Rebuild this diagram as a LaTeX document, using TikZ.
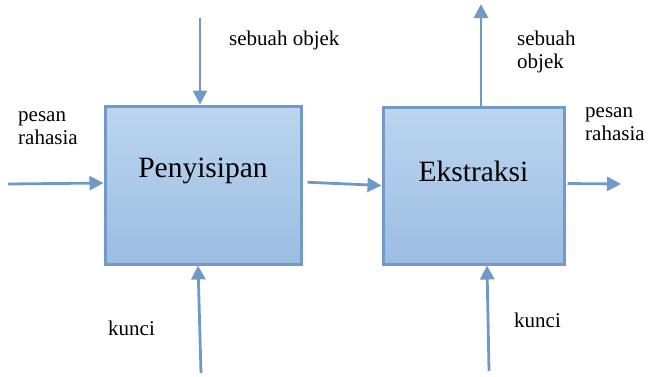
\documentclass[tikz,border=0pt]{standalone}
\usepackage{fontspec}
\setmainfont{Liberation Serif}
\usetikzlibrary{arrows.meta,positioning}
\definecolor{boxtop}{HTML}{BCD5EF}
\definecolor{boxbot}{HTML}{9BBDE2}
\definecolor{boxline}{HTML}{739AC6}
\definecolor{arrowblue}{HTML}{6F9AC8}
\tikzset{
  process/.style={draw=boxline, line width=3pt, top color=boxtop, bottom color=boxbot,
    inner sep=0pt},
  title/.style={font=\fontsize{29.5}{32}\selectfont},
  lbl/.style={anchor=west, align=left, inner sep=0pt, font=\fontsize{21}{22.5}\selectfont},
  flow/.style={draw=arrowblue, line width=2.8pt, -{Triangle[length=14pt,width=14pt]}}
}
\begin{document}
\begin{tikzpicture}[x=1pt,y=-1pt]
    \useasboundingbox (0,0) rectangle (649,376);
    \node[process, minimum width=196pt, minimum height=158pt] (emb) at (203,185) {};
    \node[title] (embt) at (203,171) {Penyisipan};
    \node[process, minimum width=181pt, minimum height=157pt] (ext) at (473.5,185.5) {};
    \node[title] (extt) at (473.5,171) {Ekstraksi};

    \coordinate (msgin) at (8,184);
    \coordinate (objin) at (200,18);
    \coordinate (keyin) at (201,373);
    \coordinate (objout) at (481,4);
    \coordinate (msgout) at (621,184);
    \coordinate (keyout) at (489,371);

    \node[lbl] (l1) at (229,40) {sebuah objek};
    \node[lbl] (l2) at (18,128) {pesan\\rahasia};
    \node[lbl] (l3) at (108,328) {kunci};
    \node[lbl] (l4) at (517,52) {sebuah\\objek};
    \node[lbl] (l5) at (585,124) {pesan\\rahasia};
    \node[lbl] (l6) at (514,320) {kunci};

    \path[flow] (msgin) -- ([yshift=2pt]emb.west);
    \path[flow] (objin) -- ([xshift=-3pt]emb.north);
    \path[flow] (keyin) -- ([xshift=-5pt]emb.south);
    \path[flow, shorten <=5pt] ([yshift=3pt]emb.east) -- (ext.west);
    \path[flow] ([xshift=7.5pt]ext.north) -- (objout);
    \path[flow, shorten <=2pt] ([yshift=2pt]ext.east) -- (msgout);
    \path[flow] (keyout) -- ([xshift=13.5pt]ext.south);
\end{tikzpicture}
\end{document}
